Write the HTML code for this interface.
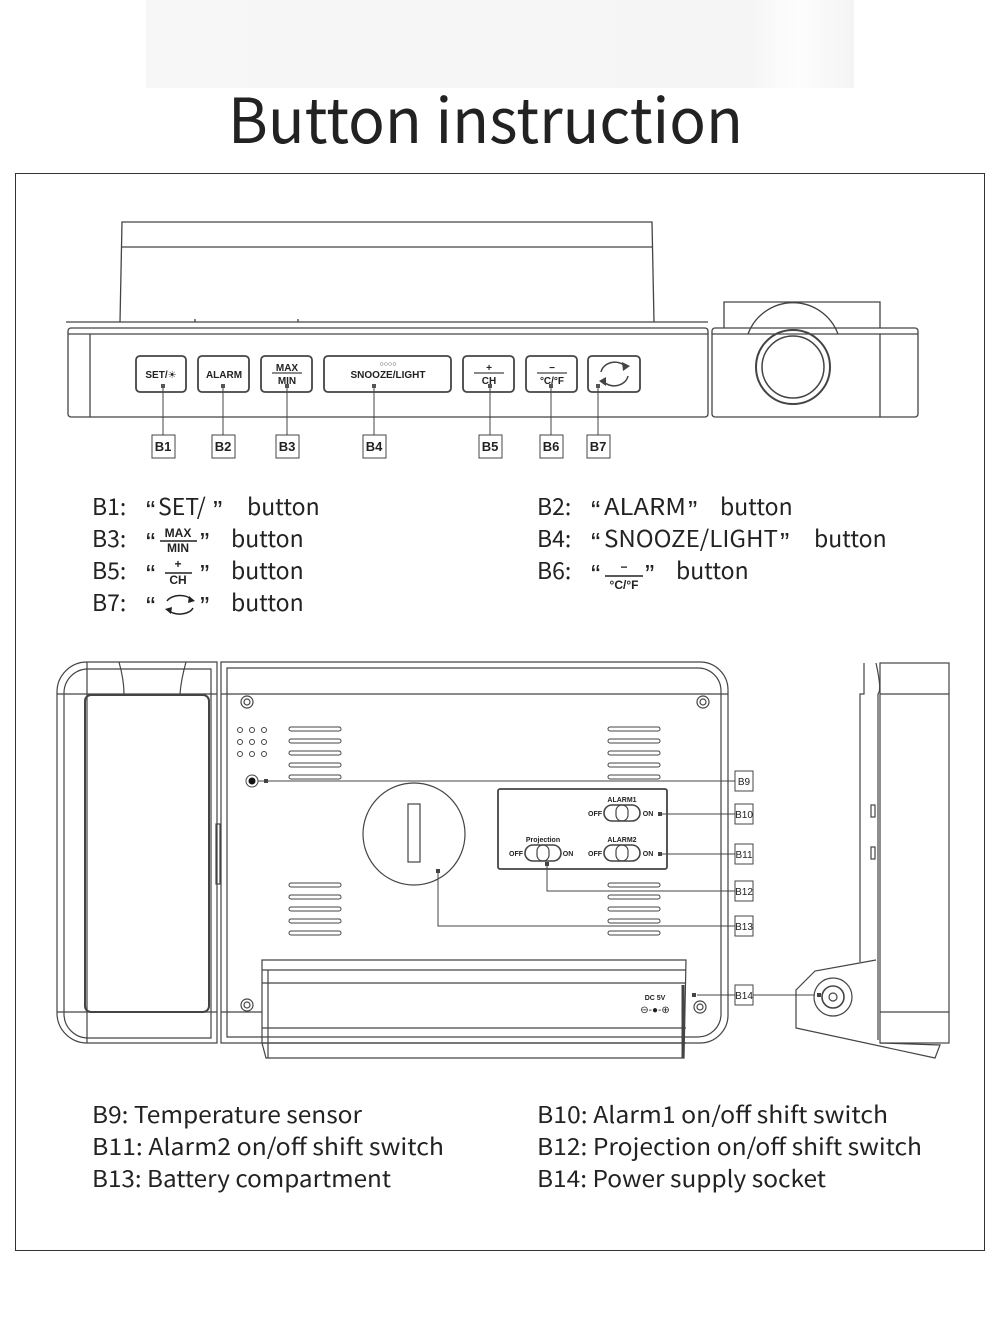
<!DOCTYPE html>
<html><head><meta charset="utf-8"><style>
html,body{margin:0;padding:0;background:#fff;}
body{width:1000px;height:1343px;position:relative;overflow:hidden;font-family:"Liberation Sans","DejaVu Sans",sans-serif;}
svg{position:absolute;left:0;top:0;}
.t{font-family:"Noto Sans CJK SC","Liberation Sans",sans-serif;}
.q{font-family:"Liberation Sans",sans-serif;}
</style></head><body>
<svg width="1000" height="1343" viewBox="0 0 1000 1343" xmlns="http://www.w3.org/2000/svg">
<defs><linearGradient id="g" x1="0" x2="1"><stop offset="0" stop-color="#f7f7f7"/><stop offset="0.85" stop-color="#f5f5f5"/><stop offset="0.92" stop-color="#fdfdfd"/><stop offset="1" stop-color="#f4f4f4"/></linearGradient></defs>
<rect x="146" y="0" width="708" height="88" fill="url(#g)"/>
<text class="t" x="228" y="143" font-size="62" fill="#222" textLength="515" lengthAdjust="spacingAndGlyphs">Button instruction</text>
<rect x="15.5" y="173.5" width="969" height="1077" fill="none" stroke="#333" stroke-width="1"/>

<g fill="none" stroke="#444" stroke-width="1.3">
<path d="M120 322 L122 222 L652 222 L654 322"/>
<line x1="122" y1="247" x2="652" y2="247"/>
<rect x="68" y="328" width="640" height="89" rx="3"/>
<line x1="68" y1="334" x2="708" y2="334"/>
<line x1="90" y1="334" x2="90" y2="417"/>
<line x1="195" y1="319" x2="195" y2="322"/><line x1="298" y1="319" x2="298" y2="322"/>
<line x1="66" y1="322" x2="708" y2="322"/>
<rect x="712" y="328" width="206" height="89" rx="3"/>
<line x1="712" y1="334" x2="918" y2="334"/>
<line x1="880" y1="334" x2="880" y2="417"/>
<path d="M724 328 L724 302 L880 302 L880 328"/>
<path d="M748 334 A48 48 0 0 1 838 334"/>
<circle cx="793" cy="367" r="37" stroke-width="2"/>
<circle cx="793" cy="367" r="31" stroke-width="1.5"/>
<rect x="136" y="356" width="50" height="36" rx="4" stroke-width="1.8"/>
<rect x="198" y="356" width="51" height="36" rx="4" stroke-width="1.8"/>
<rect x="261" y="356" width="51" height="36" rx="4" stroke-width="1.8"/>
<rect x="324" y="356" width="127" height="36" rx="4" stroke-width="1.8"/>
<rect x="463" y="356" width="51" height="36" rx="4" stroke-width="1.8"/>
<rect x="526" y="356" width="51" height="36" rx="4" stroke-width="1.8"/>
<rect x="588" y="356" width="52" height="36" rx="4" stroke-width="1.8"/>
<line x1="272" y1="373" x2="302" y2="373"/>
<line x1="474" y1="373" x2="504" y2="373"/>
<line x1="537" y1="373" x2="567" y2="373"/>
<path d="M601 372 A14 12 0 0 1 626 367" stroke-width="1.5"/><path d="M628 376 A14 12 0 0 1 603 381" stroke-width="1.5"/>
<g stroke-width="1">
<line x1="163" y1="388" x2="163" y2="435"/><line x1="223" y1="388" x2="223" y2="435"/><line x1="287" y1="388" x2="287" y2="435"/><line x1="374" y1="388" x2="374" y2="435"/><line x1="490" y1="388" x2="490" y2="435"/><line x1="551" y1="388" x2="551" y2="435"/><line x1="598" y1="388" x2="598" y2="435"/>
<rect x="152" y="435" width="23" height="23"/><rect x="212" y="435" width="23" height="23"/><rect x="276" y="435" width="23" height="23"/><rect x="363" y="435" width="23" height="23"/><rect x="479" y="435" width="23" height="23"/><rect x="540" y="435" width="23" height="23"/><rect x="587" y="435" width="23" height="23"/>
</g>
</g>
<g fill="#444"><path d="M622 362 L630 366 L623 371Z"/><path d="M606 386 L599 381 L606 377Z"/></g>
<g fill="#222" font-weight="bold" font-size="10" text-anchor="middle">
<text x="161" y="378">SET/☀</text><text x="224" y="378">ALARM</text>
<text x="287" y="371">MAX</text><text x="287" y="384">MIN</text>
<text x="388" y="378">SNOOZE/LIGHT</text><text x="388" y="366" font-size="7" font-weight="normal">○○○○</text>
<text x="489" y="371">+</text><text x="489" y="384">CH</text>
<text x="552" y="371">−</text><text x="552" y="384">°C/°F</text>
<g font-size="13"><text x="163" y="451">B1</text><text x="223" y="451">B2</text><text x="287" y="451">B3</text><text x="374" y="451">B4</text><text x="490" y="451">B5</text><text x="551" y="451">B6</text><text x="598" y="451">B7</text></g>
</g>
<g fill="#555"><rect x="161" y="384" width="4" height="4"/><rect x="221" y="384" width="4" height="4"/><rect x="285" y="384" width="4" height="4"/><rect x="372" y="384" width="4" height="4"/><rect x="488" y="384" width="4" height="4"/><rect x="549" y="384" width="4" height="4"/><rect x="596" y="384" width="4" height="4"/></g>

<g class="t" font-size="23" fill="#222">
<text x="92" y="515">B1:</text><text x="158" y="515">SET/</text><text x="247" y="515">button</text>
<text x="92" y="547">B3:</text><text x="231" y="547">button</text>
<text x="92" y="579">B5:</text><text x="231" y="579">button</text>
<text x="92" y="611">B7:</text><text x="231" y="611">button</text>
<text x="537" y="515">B2:</text><text x="604" y="515" textLength="82" lengthAdjust="spacingAndGlyphs">ALARM</text><text x="720" y="515">button</text>
<text x="537" y="547">B4:</text><text x="604" y="547" textLength="174" lengthAdjust="spacingAndGlyphs">SNOOZE/LIGHT</text><text x="814" y="547">button</text>
<text x="537" y="579">B6:</text><text x="676" y="579">button</text>
</g>
<g class="q" font-size="28" fill="#222">
<text x="146" y="520">“</text><text x="213" y="520">”</text>
<text x="146" y="552">“</text><text x="200" y="552">”</text>
<text x="146" y="584">“</text><text x="200" y="584">”</text>
<text x="146" y="616">“</text><text x="200" y="616">”</text>
<text x="591" y="520">“</text><text x="688" y="520">”</text>
<text x="591" y="552">“</text><text x="780" y="552">”</text>
<text x="591" y="584">“</text><text x="645" y="584">”</text>
</g>
<g fill="#222" font-weight="bold" text-anchor="middle" font-size="12">
<text x="178" y="537">MAX</text><text x="178" y="552">MIN</text>
<text x="178" y="568">+</text><text x="178" y="584">CH</text>
<text x="624" y="571">−</text><text x="624" y="589">°C/°F</text>
</g>
<g stroke="#222" stroke-width="1.5" fill="none">
<line x1="160" y1="541" x2="197" y2="541"/><line x1="165" y1="573" x2="192" y2="573"/><line x1="605" y1="576" x2="643" y2="576"/>
<path d="M167 601 A14 9 0 0 1 192 600"/><path d="M193 608 A14 9 0 0 1 168 610"/>
</g>
<g fill="#222"><path d="M189 596 L195 601 L188 603Z"/><path d="M171 614 L165 609 L172 607Z"/></g>

<g fill="none" stroke="#444" stroke-width="1.2">
<path d="M87 662 L217 662 L217 1043 L87 1043 A30 30 0 0 1 57 1013 L57 692 A30 30 0 0 1 87 662Z"/>
<path d="M88 669 L211 669 L211 1038 L88 1038 A24 24 0 0 1 64 1014 L64 693 A24 24 0 0 1 88 669Z"/>
<line x1="57" y1="694" x2="217" y2="694"/><line x1="57" y1="1012" x2="217" y2="1012"/>
<line x1="87" y1="662" x2="87" y2="1043"/>
<path d="M119 662 Q124 680 124 694"/><path d="M186 662 Q181 680 180 694"/>
<rect x="85" y="695" width="124" height="317" rx="6" stroke-width="2"/>
<rect x="216" y="824" width="4" height="60"/>
<path d="M221 662 L700 662 A28 28 0 0 1 728 690 L728 1015 A28 28 0 0 1 700 1043 L221 1043Z"/>
<path d="M227 668 L698 668 A23 23 0 0 1 721 691 L721 1015 A23 23 0 0 1 698 1037 L227 1037Z"/>
<line x1="221" y1="694" x2="728" y2="694"/><line x1="221" y1="1012" x2="262" y2="1012"/>
<circle cx="247" cy="702" r="6"/><circle cx="247" cy="702" r="3"/>
<circle cx="703" cy="702" r="6"/><circle cx="703" cy="702" r="3"/>
<circle cx="247" cy="1005" r="6"/><circle cx="247" cy="1005" r="3"/>
<g stroke-width="1">
<circle cx="240" cy="730" r="2.5"/><circle cx="252" cy="730" r="2.5"/><circle cx="264" cy="730" r="2.5"/>
<circle cx="240" cy="742" r="2.5"/><circle cx="252" cy="742" r="2.5"/><circle cx="264" cy="742" r="2.5"/>
<circle cx="240" cy="754" r="2.5"/><circle cx="252" cy="754" r="2.5"/><circle cx="264" cy="754" r="2.5"/>
</g>
<g stroke-width="1">
<rect x="289" y="727" width="52" height="4" rx="2"/><rect x="289" y="739" width="52" height="4" rx="2"/><rect x="289" y="751" width="52" height="4" rx="2"/><rect x="289" y="763" width="52" height="4" rx="2"/><rect x="289" y="775" width="52" height="4" rx="2"/>
<rect x="289" y="883" width="52" height="4" rx="2"/><rect x="289" y="895" width="52" height="4" rx="2"/><rect x="289" y="907" width="52" height="4" rx="2"/><rect x="289" y="919" width="52" height="4" rx="2"/><rect x="289" y="931" width="52" height="4" rx="2"/>
<rect x="608" y="727" width="52" height="4" rx="2"/><rect x="608" y="739" width="52" height="4" rx="2"/><rect x="608" y="751" width="52" height="4" rx="2"/><rect x="608" y="763" width="52" height="4" rx="2"/><rect x="608" y="775" width="52" height="4" rx="2"/>
<rect x="608" y="883" width="52" height="4" rx="2"/><rect x="608" y="895" width="52" height="4" rx="2"/><rect x="608" y="907" width="52" height="4" rx="2"/><rect x="608" y="919" width="52" height="4" rx="2"/><rect x="608" y="931" width="52" height="4" rx="2"/>
</g>
<circle cx="414" cy="834" r="51"/>
<rect x="408" y="804" width="12" height="58"/>
<rect x="498" y="789" width="169" height="80" rx="2" stroke-width="1.8"/>
<rect x="604" y="805" width="36" height="16" rx="8" stroke-width="1.6"/><rect x="616" y="805" width="12" height="16" rx="6"/>
<rect x="604" y="845" width="36" height="16" rx="8" stroke-width="1.6"/><rect x="616" y="845" width="12" height="16" rx="6"/>
<rect x="525" y="845" width="36" height="16" rx="8" stroke-width="1.6"/><rect x="537" y="845" width="12" height="16" rx="6"/>
<path d="M262 960 L686 960 L684 1058 L266 1058 L262 1043 Z"/>
<line x1="262" y1="970" x2="686" y2="970"/><line x1="262" y1="983" x2="686" y2="983"/><line x1="262" y1="1028" x2="686" y2="1028"/><line x1="262" y1="1043" x2="686" y2="1043"/>
<line x1="268" y1="970" x2="268" y2="1058"/>
<line x1="683" y1="985" x2="683" y2="1058" stroke-width="3"/>
<circle cx="700" cy="1007" r="6"/><circle cx="700" cy="1007" r="3"/>
<g stroke-width="1">
<line x1="256" y1="781" x2="735" y2="781"/>
<line x1="660" y1="814" x2="735" y2="814"/>
<line x1="660" y1="854" x2="735" y2="854"/>
<polyline points="547,862 547,891 735,891"/>
<polyline points="438,871 438,926 735,926"/>
<line x1="697" y1="995" x2="735" y2="995"/><line x1="753" y1="995" x2="815" y2="995"/>
<rect x="735" y="771" width="18" height="20"/><rect x="735" y="804" width="18" height="20"/><rect x="735" y="844" width="18" height="20"/><rect x="735" y="881" width="18" height="20"/><rect x="735" y="916" width="18" height="20"/><rect x="735" y="985" width="18" height="20"/>
</g>
<rect x="880" y="663" width="69" height="380"/>
<line x1="880" y1="694" x2="949" y2="694"/><line x1="880" y1="1012" x2="949" y2="1012"/>
<path d="M864 663 L864 694 L860 694 L860 962"/>
<path d="M876 663 Q882 690 878 694 L878 1040"/>
<path d="M876 960 L815 971 L796 990 L796 1028 L935 1058 L940 1045 L880 1043"/>
<circle cx="833" cy="997" r="19"/><circle cx="833" cy="997" r="11" stroke-width="1.6"/><circle cx="833" cy="997" r="4"/>
<rect x="871" y="805" width="4" height="12"/><rect x="871" y="847" width="4" height="12"/>
</g>
<circle cx="252" cy="781" r="6" fill="#fff" stroke="#444"/><circle cx="252" cy="781" r="3.5" fill="#111"/>
<g fill="#444"><rect x="264" y="779" width="4" height="4"/><rect x="436" y="869" width="4" height="4"/><rect x="658" y="812" width="4" height="4"/><rect x="658" y="852" width="4" height="4"/><rect x="545" y="862" width="4" height="4"/><rect x="692" y="993" width="4" height="4"/><rect x="817" y="993" width="4" height="4"/></g>
<g fill="#222" font-weight="bold" font-size="7" text-anchor="middle">
<text x="622" y="802">ALARM1</text><text x="622" y="842">ALARM2</text><text x="543" y="842">Projection</text>
<text x="595" y="816">OFF</text><text x="648" y="816">ON</text>
<text x="595" y="856">OFF</text><text x="648" y="856">ON</text>
<text x="516" y="856">OFF</text><text x="568" y="856">ON</text>
<text x="655" y="1000">DC 5V</text><text x="655" y="1013" font-size="10" font-weight="normal">⊖-●-⊕</text>
<g font-size="10" font-weight="normal"><text x="744" y="785">B9</text><text x="744" y="818">B10</text><text x="744" y="858">B11</text><text x="744" y="895">B12</text><text x="744" y="930">B13</text><text x="744" y="999">B14</text></g>
</g>

<g class="t" font-size="23" fill="#222">
<text x="92" y="1123" textLength="270" lengthAdjust="spacingAndGlyphs">B9: Temperature sensor</text>
<text x="92" y="1155" textLength="352" lengthAdjust="spacingAndGlyphs">B11: Alarm2 on/off shift switch</text>
<text x="92" y="1187" textLength="299" lengthAdjust="spacingAndGlyphs">B13: Battery compartment</text>
<text x="537" y="1123" textLength="351" lengthAdjust="spacingAndGlyphs">B10: Alarm1 on/off shift switch</text>
<text x="537" y="1155" textLength="385" lengthAdjust="spacingAndGlyphs">B12: Projection on/off shift switch</text>
<text x="537" y="1187" textLength="289" lengthAdjust="spacingAndGlyphs">B14: Power supply socket</text>
</g>
</svg>
</body></html>
